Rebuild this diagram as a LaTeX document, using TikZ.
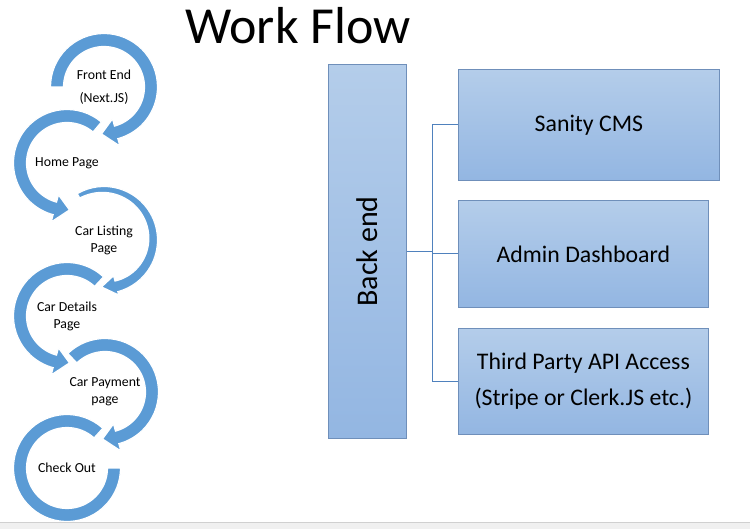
\documentclass[tikz,border=0pt]{standalone}
\usepackage{fontspec}
\setmainfont{Carlito}
\usetikzlibrary{calc,positioning}
\definecolor{cRing}{HTML}{5B9BD5}
\definecolor{cBoxTop}{HTML}{B4CDEA}
\definecolor{cBoxBot}{HTML}{93B6E2}
\definecolor{cEdge}{HTML}{6F8FBA}
\definecolor{cLink}{HTML}{4F81BD}
\definecolor{cBar}{HTML}{F0F0F0}
\definecolor{cBarLine}{HTML}{D0D0D0}
\tikzset{
  ring/.style={fill=cRing, draw=white, line width=1.2pt},
  stage/.style={align=center, inner sep=0pt, font=\fontsize{13.8}{17}\selectfont},
  sbox/.style={draw=cEdge, line width=0.8pt, top color=cBoxTop, bottom color=cBoxBot,
               anchor=north west, align=center, font=\fontsize{23.8}{36}\selectfont},
  bus/.style={draw=cLink, line width=0.9pt},
}
% ring arrow: #1 centre, #2 start, #3 end, #4 tail width, #5 end width, #6 half head
\newcommand{\flowring}[6]{%
  \fill[ring, shift={(#1)}] (#2:53.5) arc[start angle=#2, end angle=#3, radius=53.5]
    -- (#3:{47+#6}) -- ({#3+18*sign(#3-#2)}:47) -- (#3:{47-#6})
    -- (#3:{53.5-#5})
    -- plot[domain=#3:#2, samples=60] (\x:{53.5-#4-(#5-#4)*(\x-#2)/(#3-#2)}) -- cycle;}

\begin{document}
\begin{tikzpicture}[x=1pt, y=-1pt]
  \useasboundingbox (0,0) rectangle (750,529);
  % title
  \node[anchor=base, font=\fontsize{52}{60}\selectfont] (wf) at (298,44) {Work Flow};
  % stages
  \node[stage] (fe) at (104,87) {Front End\\[6pt](Next.JS)};
  \node[stage] (hp) at (67,163) {Home Page};
  \node[stage] (cl) at (104,240) {Car Listing\\Page};
  \node[stage] (cd) at (67,316) {Car Details\\Page};
  \node[stage] (cp) at (105,392) {Car Payment\\page};
  \node[stage] (co) at (67,468) {Check Out};
  % circular arrows
  \fill[ring, shift={(co)}] (312:53.5) arc[start angle=312, end angle=0, radius=53.5]
    -- (0:40.5) arc[start angle=0, end angle=312, radius=40.5] -- cycle;
  \flowring{cp}{226}{435}{13}{13}{14}
  \flowring{cd}{313}{105}{13}{13}{14}
  \flowring{cl}{240}{435}{5}{11}{10}
  \flowring{hp}{310}{105}{13}{13}{14}
  \flowring{fe}{180}{435}{13}{13}{14}
  % back end and services
  \node[sbox, minimum width=78, minimum height=374,
        label={[rotate=90, font=\fontsize{30}{36}\selectfont]center:Back end}] (be) at (328,64) {};
  \node[sbox, minimum width=261, minimum height=111] (sc) at (458,69) {Sanity CMS};
  \node[sbox, minimum width=250, minimum height=107] (ad) at (458,200) {Admin Dashboard};
  \node[sbox, minimum width=250, minimum height=106] (tp) at (458,328)
    {Third Party API Access\\(Stripe or Clerk.JS etc.)};
  \draw[bus] (be.east) -- ++(26,0) coordinate (jn);
  \foreach \b in {sc,ad,tp} \draw[bus] (jn) |- (\b.west);
  % window edge
  \fill[cBar] (0,522) rectangle (750,529);
  \draw[cBarLine] (0,522) -- (750,522);
\end{tikzpicture}
\end{document}
